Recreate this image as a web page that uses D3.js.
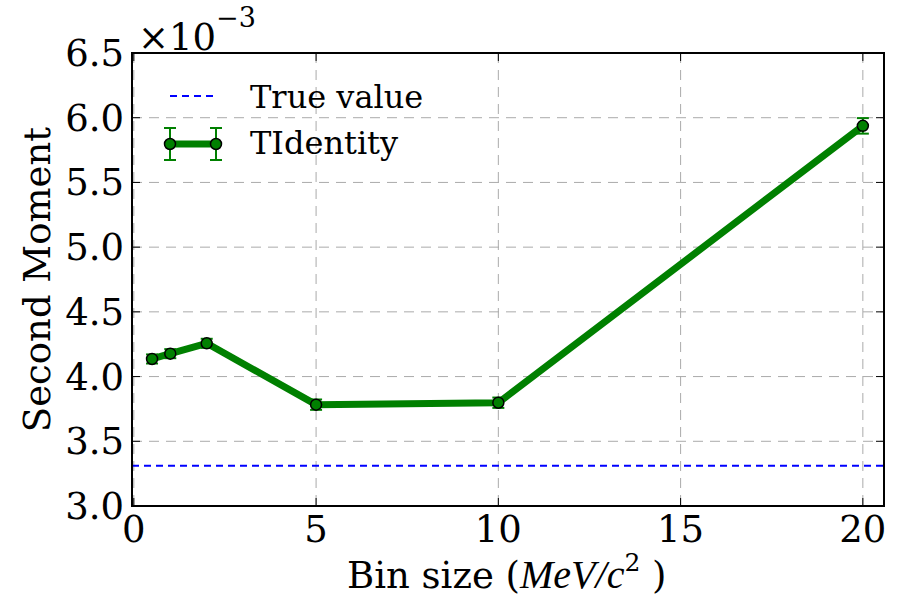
<!DOCTYPE html>
<html>
<head>
<meta charset="utf-8">
<script src="https://cdn.jsdelivr.net/npm/d3@7"></script>
<style>
  html, body { margin: 0; padding: 0; background: #fff; }
  svg text { font-family: "DejaVu Serif", serif; fill: #000; }
</style>
</head>
<body>
<svg id="chart" width="900" height="600"></svg>
<script>
// Bin sizes (MeV/c^2) and measured second moments (x 1e-3)
const binSizes = [0.5, 1, 2, 5, 10, 20];
const secondMoment = [4.136, 4.177, 4.257, 3.783, 3.798, 5.937];
const momentErr = [0.035, 0.035, 0.035, 0.04, 0.04, 0.06];
const trueValue = 3.311;
const xTicks = [0, 5, 10, 15, 20];
const yTicks = [3.0, 3.5, 4.0, 4.5, 5.0, 5.5, 6.0, 6.5];

const svg = d3.select("#chart");
const plotLeft = 132, plotRight = 884, plotTop = 53, plotBottom = 506;

const x = d3.scaleLinear().domain([-0.05, 20.58]).range([plotLeft, plotRight]);
const y = d3.scaleLinear().domain([3.0, 6.5]).range([plotBottom, plotTop]);

const green = "#008000";

// grid
const grid = svg.append("g");
grid.selectAll(".gx").data(xTicks).join("line")
  .attr("x1", d => x(d)).attr("x2", d => x(d))
  .attr("y1", plotTop).attr("y2", plotBottom)
  .attr("stroke", "#aaaaaa").attr("stroke-width", 1)
  .attr("stroke-dasharray", "10,7");
grid.selectAll(".gy").data(yTicks).join("line")
  .attr("x1", plotLeft).attr("x2", plotRight)
  .attr("y1", d => y(d)).attr("y2", d => y(d))
  .attr("stroke", "#aaaaaa").attr("stroke-width", 1)
  .attr("stroke-dasharray", "10,7");

// true value reference line
svg.append("line")
  .attr("x1", plotLeft).attr("x2", plotRight)
  .attr("y1", y(trueValue)).attr("y2", y(trueValue))
  .attr("stroke", "#0000ff").attr("stroke-width", 2)
  .attr("stroke-dasharray", "7,5");

// data line
const pts = binSizes.map((b, i) => ({ x: b, y: secondMoment[i], e: momentErr[i] }));
svg.append("path")
  .datum(pts)
  .attr("fill", "none")
  .attr("stroke", green)
  .attr("stroke-width", 7)
  .attr("stroke-linejoin", "round")
  .attr("d", d3.line().x(d => x(d.x)).y(d => y(d.y)));

// error bars
const eb = svg.append("g").attr("stroke", green).attr("stroke-width", 2);
pts.forEach(p => {
  eb.append("line").attr("x1", x(p.x)).attr("x2", x(p.x))
    .attr("y1", y(p.y - p.e)).attr("y2", y(p.y + p.e));
  [p.y - p.e, p.y + p.e].forEach(v => {
    eb.append("line").attr("x1", x(p.x) - 6).attr("x2", x(p.x) + 6)
      .attr("y1", y(v)).attr("y2", y(v));
  });
});

// markers
svg.selectAll(".pt").data(pts).join("circle")
  .attr("cx", d => x(d.x)).attr("cy", d => y(d.y)).attr("r", 5.5)
  .attr("fill", green).attr("stroke", "#000").attr("stroke-width", 1.5);

// frame
svg.append("rect")
  .attr("x", plotLeft).attr("y", plotTop)
  .attr("width", plotRight - plotLeft).attr("height", plotBottom - plotTop)
  .attr("fill", "none").attr("stroke", "#000").attr("stroke-width", 2);

// ticks inside on all four sides
const tk = svg.append("g").attr("stroke", "#000").attr("stroke-width", 1);
xTicks.forEach(t => {
  tk.append("line").attr("x1", x(t)).attr("x2", x(t)).attr("y1", plotBottom).attr("y2", plotBottom - 8);
  tk.append("line").attr("x1", x(t)).attr("x2", x(t)).attr("y1", plotTop).attr("y2", plotTop + 8);
});
yTicks.forEach(t => {
  tk.append("line").attr("x1", plotLeft).attr("x2", plotLeft + 8).attr("y1", y(t)).attr("y2", y(t));
  tk.append("line").attr("x1", plotRight).attr("x2", plotRight - 8).attr("y1", y(t)).attr("y2", y(t));
});

// tick labels
svg.selectAll(".xl").data(xTicks).join("text")
  .attr("x", d => x(d)).attr("y", plotBottom + 36)
  .attr("text-anchor", "middle").attr("font-size", 37)
  .text(d => d);
svg.selectAll(".yl").data(yTicks).join("text")
  .attr("x", plotLeft - 8).attr("y", d => y(d) + 13)
  .attr("text-anchor", "end").attr("font-size", 37)
  .text(d => d.toFixed(1));

// offset text
const off = svg.append("text").attr("x", 138).attr("y", 50).attr("font-size", 37);
off.append("tspan").text("\u00d710");
off.append("tspan").attr("dy", -23).attr("font-size", 27).text("\u22123");

// axis labels
const xl = svg.append("text").attr("x", 347).attr("y", 588)
  .attr("text-anchor", "start").attr("font-size", 37);
xl.append("tspan").text("Bin size (");
xl.append("tspan").attr("font-family", "'Liberation Serif', serif")
  .attr("font-style", "italic").attr("font-size", 40).text("MeV/c");
xl.append("tspan").attr("dy", -17).attr("font-size", 25).text("2");
xl.append("tspan").attr("dy", 17).text(" )");

svg.append("text")
  .attr("transform", "translate(50," + ((plotTop + plotBottom) / 2) + ") rotate(-90)")
  .attr("text-anchor", "middle").attr("font-size", 37)
  .text("Second Moment");

// legend
const lg = svg.append("g");
lg.append("line").attr("x1", 170).attr("x2", 216).attr("y1", 96).attr("y2", 96)
  .attr("stroke", "#0000ff").attr("stroke-width", 2).attr("stroke-dasharray", "7,5");
lg.append("text").attr("x", 250).attr("y", 108).attr("font-size", 32).text("True value");

lg.append("line").attr("x1", 170).attr("x2", 216).attr("y1", 144).attr("y2", 144)
  .attr("stroke", green).attr("stroke-width", 7);
[170, 216].forEach(cx => {
  lg.append("line").attr("x1", cx).attr("x2", cx).attr("y1", 128).attr("y2", 160)
    .attr("stroke", green).attr("stroke-width", 2);
  [128, 160].forEach(cy => lg.append("line").attr("x1", cx - 6).attr("x2", cx + 6)
    .attr("y1", cy).attr("y2", cy).attr("stroke", green).attr("stroke-width", 2));
  lg.append("circle").attr("cx", cx).attr("cy", 144).attr("r", 5.5)
    .attr("fill", green).attr("stroke", "#000").attr("stroke-width", 1.5);
});
lg.append("text").attr("x", 250).attr("y", 154).attr("font-size", 32).text("TIdentity");
</script>
</body>
</html>
